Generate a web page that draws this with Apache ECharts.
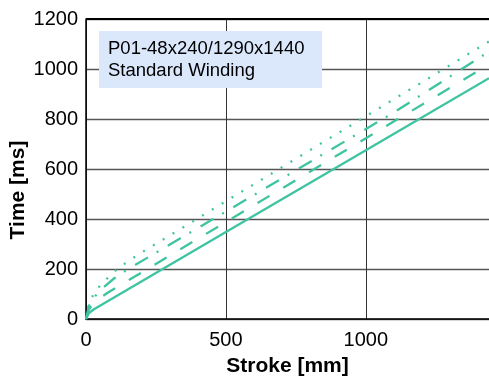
<!DOCTYPE html>
<html>
<head>
<meta charset="utf-8">
<script src="https://cdn.jsdelivr.net/npm/echarts@6/dist/echarts.min.js"></script>
<style>
html,body{margin:0;padding:0;background:#fff;}
#chart{width:489px;height:376px;}
</style>
</head>
<body>
<div id="chart"></div>
<script>
// Data (stroke in mm, time in ms)
const solidStroke   = [0, 10, 20, 30, 500, 1000, 1440];
const solidTime     = [0, 23, 32, 40, 348, 675, 963];
const dashedStroke  = [0, 10, 25, 50, 79, 500, 1000, 1440];
const dashedTime    = [0, 38, 60, 84, 106, 388, 723, 1018];
const dashDotStroke = [0, 10, 25, 50, 100, 151, 500, 1100, 1440];
const dashDotTime   = [0, 51, 81, 115, 162, 200, 430, 826, 1070];
const dottedStroke  = [0, 10, 25, 50, 100, 150, 193, 500, 1000, 1440];
const dottedTime    = [0, 60, 94, 134, 189, 231, 262, 471, 811, 1110];

const xTicks = [0, 500, 1000];
const yTicks = [0, 200, 400, 600, 800, 1000, 1200];
const xMax = 1440, yMax = 1200;
const boxLines = ['P01-48x240/1290x1440', 'Standard Winding'];
const xTitle = 'Stroke [mm]';
const yTitle = 'Time [ms]';

const pair = (xs, ys) => xs.map((x, i) => [x, ys[i]]);
const color = '#3ec4a0';
const font = 'Liberation Sans, Arial, Helvetica, sans-serif';

function lineSeries(name, xs, ys, type) {
  return {
    name, type: 'line', data: pair(xs, ys), showSymbol: false, smooth: false,
    lineStyle: { color, width: 2.3, type, cap: 'butt' }, z: 3
  };
}

const chart = echarts.init(document.getElementById('chart'), null, { renderer: 'canvas' });
chart.setOption({
  animation: false,
  backgroundColor: '#fff',
  grid: { left: 86, right: -1, top: 19, bottom: 57, containLabel: false },
  xAxis: {
    type: 'value', min: 0, max: xMax, interval: 500,
    axisLine: { show: true, lineStyle: { color: '#000', width: 1.5 } },
    axisTick: { show: false },
    axisLabel: { color: '#000', fontSize: 20, fontFamily: font, margin: 11,
      showMaxLabel: false,
      formatter: v => xTicks.includes(v) ? String(v) : '' },
    splitLine: { show: true, lineStyle: { color: '#333', width: 1 } }
  },
  yAxis: {
    type: 'value', min: 0, max: yMax, interval: 200,
    axisLine: { show: true, lineStyle: { color: '#000', width: 1.5 } },
    axisTick: { show: false },
    axisLabel: { color: '#000', fontSize: 20, fontFamily: font, margin: 8,
      formatter: v => yTicks.includes(v) ? String(v) : '' },
    splitLine: { show: true, lineStyle: { color: '#555', width: 1.3 } }
  },
  series: [
    lineSeries('solid', solidStroke, solidTime, 'solid'),
    lineSeries('dashed', dashedStroke, dashedTime, [14, 16]),
    lineSeries('dashdot', dashDotStroke, dashDotTime, [15, 10, 2, 11]),
    lineSeries('dotted', dottedStroke, dottedTime, [2, 9.5])
  ],
  graphic: [
    { type: 'line', shape: { x1: 86, y1: 19, x2: 489, y2: 19 },
      style: { stroke: '#000', lineWidth: 2 }, z: 10 },
    { type: 'rect', shape: { x: 99, y: 31, width: 223, height: 57 },
      style: { fill: '#dbe8fc' }, z: 10 },
    { type: 'text', x: 108, y: 38.5, z: 11,
      style: { text: boxLines.join('\n'), fill: '#000', font: '18.5px ' + font, lineHeight: 21.5 } },
    { type: 'text', x: 287.5, y: 366, z: 11,
      style: { text: xTitle, fill: '#000', font: 'bold 21px ' + font, align: 'center', verticalAlign: 'middle' } },
    { type: 'text', x: 18.5, y: 190, rotation: Math.PI / 2, z: 11,
      style: { text: yTitle, fill: '#000', font: 'bold 21px ' + font, align: 'center', verticalAlign: 'middle' } }
  ]
});
</script>
</body>
</html>
